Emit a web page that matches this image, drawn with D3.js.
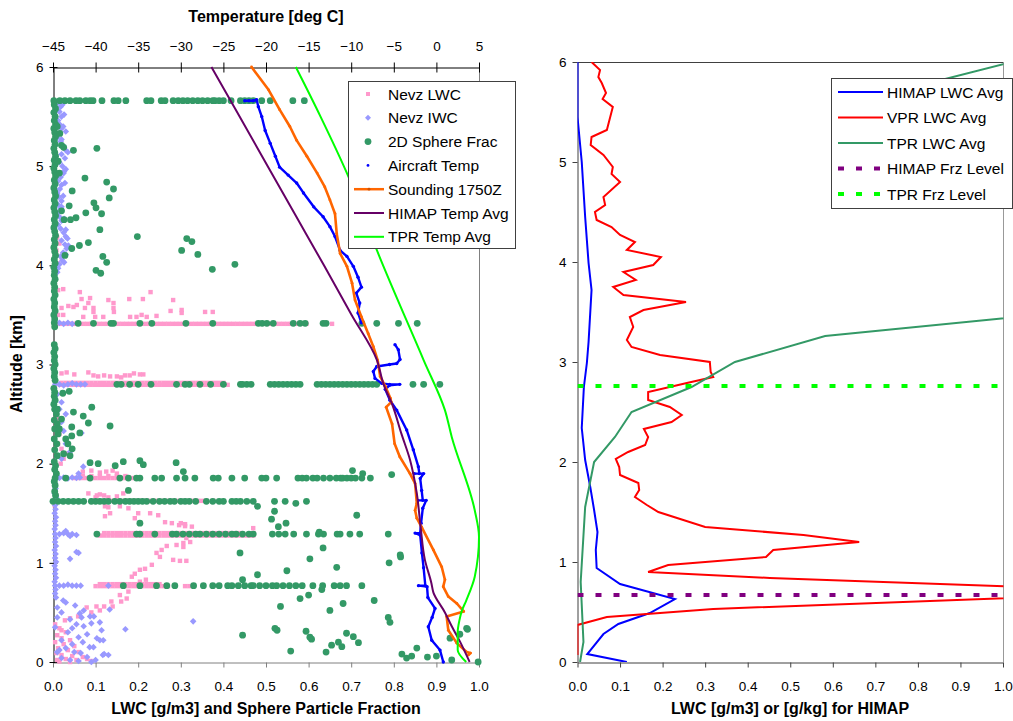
<!DOCTYPE html>
<html><head><meta charset="utf-8">
<script src="https://cdn.jsdelivr.net/npm/d3@7"></script>
<style>body{margin:0;background:#fff}svg{display:block}text{font-family:"Liberation Sans",Arial,sans-serif;fill:#000}</style>
</head><body><svg id="c" width="1013" height="721"></svg>
<script>
// ---------- tick labels ----------
const tempTicks = [-45,-40,-35,-30,-25,-20,-15,-10,-5,0,5];
const fracTicks = [0,0.1,0.2,0.3,0.4,0.5,0.6,0.7,0.8,0.9,1.0];
const altTicks = [0,1,2,3,4,5,6];

// ---------- left chart: Nevz LWC (pink squares) ----------
const nevzLwcBandAlt = [3.41, 2.795, 2.815, 1.855, 1.875, 1.625, 1.275, 1.30, 0.765, 0.785];
const nevzLwcBandX = [
 [0.01,0.018,0.027,0.036,0.045,0.054,0.063,0.072,0.081,0.09,0.1,0.109,0.118,0.127,0.136,0.145,0.154,0.163,0.172,0.181,0.19,0.199,0.208,0.217,0.226,0.235,0.244,0.253,0.262,0.271,0.28,0.289,0.298,0.307,0.316,0.325,0.334,0.343,0.352,0.361,0.37,0.379,0.388,0.397,0.406,0.415,0.424,0.433,0.442,0.451,0.46,0.469,0.478,0.487,0.496,0.505,0.514,0.523,0.532,0.541,0.55,0.559,0.568,0.577,0.586,0.595,0.655],
 [0.016,0.025,0.034,0.043,0.052,0.061,0.07,0.079,0.088,0.097,0.106,0.115,0.124,0.133,0.142,0.151,0.16,0.169,0.178,0.187,0.196,0.205,0.214,0.223,0.232,0.241,0.25,0.259,0.268,0.277,0.286,0.295,0.304,0.313,0.322,0.331,0.34,0.349,0.358,0.367,0.376,0.385,0.394,0.403,0.41],
 [0.02,0.03,0.04,0.05,0.06,0.07,0.08,0.09,0.1,0.11,0.12,0.13,0.14,0.15,0.16,0.17,0.18,0.19,0.2,0.21,0.22,0.23,0.24,0.25,0.26,0.27,0.28,0.29,0.3,0.31,0.32,0.33,0.34,0.35,0.36,0.37,0.38,0.39,0.4],
 [0.05,0.06,0.07,0.08,0.09,0.1,0.11,0.12,0.13,0.14,0.15,0.16,0.17,0.18,0.19],
 [0.07,0.09,0.11,0.13,0.15,0.17],
 [0.09,0.1,0.11,0.12,0.13,0.14,0.15,0.16,0.17,0.18,0.19,0.2,0.21,0.22,0.23,0.24,0.25,0.26,0.27,0.28,0.29,0.3,0.31,0.32,0.33,0.34,0.35,0.36,0.376],
 [0.11,0.12,0.13,0.14,0.15,0.16,0.17,0.18,0.19,0.2,0.21,0.22,0.23,0.24,0.25,0.26,0.27,0.28,0.29,0.3,0.31,0.32,0.33,0.34,0.35,0.36,0.37,0.38,0.39,0.4,0.41,0.42,0.43,0.44,0.45,0.46,0.47],
 [0.12,0.13,0.14,0.15,0.16,0.17,0.18,0.19,0.2,0.21,0.22,0.23,0.24,0.25,0.26,0.27,0.28,0.29,0.3,0.31,0.32,0.33,0.34,0.35,0.36,0.37,0.38,0.39,0.4,0.41,0.42,0.43,0.44,0.47],
 [0.1,0.11,0.12,0.13,0.14,0.15,0.16,0.17,0.18,0.19,0.2,0.21,0.22,0.23,0.24,0.25,0.26,0.27,0.31,0.32],
 [0.11,0.12,0.13,0.14,0.15,0.16,0.17,0.18,0.19,0.2,0.21,0.22,0.23,0.24,0.25]
];
const nevzLwcScatter = [
 [0.012,3.75],[0.024,3.76],[0.063,3.73],[0.087,3.67],[0.067,3.66],[0.02,3.57],[0.036,3.59],[0.048,3.58],[0.056,3.6],[0.075,3.57],
 [0.095,3.53],[0.142,3.62],[0.143,3.53],[0.13,3.65],[0.179,3.66],[0.211,3.66],[0.229,3.73],[0.282,3.65],[0.276,3.54],[0.302,3.55],
 [0.302,3.52],[0.357,3.53],[0.375,3.53],[0.012,3.5],[0.024,3.5],[0.071,3.48],[0.099,3.48],[0.118,3.48],[0.181,3.48],[0.196,3.48],
 [0.208,3.5],[0.22,3.48],[0.243,3.49],[0.083,3.62],[0.095,3.57],[0.142,3.57],
 [0.01,4.28],[0.015,4.22],[0.008,4.15],[0.02,4.08],[0.012,4.02],
 [0.02,2.91],[0.032,2.92],[0.05,2.9],[0.083,2.92],[0.095,2.89],[0.106,2.88],[0.12,2.89],[0.134,2.88],[0.15,2.88],[0.169,2.89],
 [0.18,2.89],[0.204,2.9],[0.212,2.9],[0.16,2.87],[0.19,2.91],
 [0.005,2.55],[0.01,2.45],[0.008,2.4],[0.015,2.3],[0.012,2.2],[0.02,2.15],[0.025,2.05],[0.018,2.0],[0.03,2.1],
 [0.07,1.92],[0.09,1.93],[0.11,1.91],[0.125,1.92],[0.15,1.9],[0.14,1.93],
 [0.083,1.7],[0.103,1.68],[0.11,1.69],[0.15,1.67],[0.165,1.7],[0.1,1.66],[0.13,1.66],[0.12,1.68],
 [0.005,1.75],[0.008,1.68],[0.004,1.58],
 [0.122,1.57],[0.13,1.56],[0.134,1.5],[0.122,1.47],[0.157,1.57],[0.177,1.55],[0.192,1.45],[0.2,1.5],[0.228,1.5],[0.247,1.48],
 [0.263,1.41],[0.279,1.4],[0.296,1.38],[0.31,1.37],[0.326,1.365],[0.47,1.35],[0.3,1.4],[0.31,1.39],
 [0.313,1.25],[0.322,1.21],[0.306,1.2],[0.267,1.17],[0.255,1.13],[0.243,1.1],[0.251,1.06],[0.282,1.03],[0.313,1.02],[0.298,1.02],
 [0.232,0.98],[0.216,0.94],[0.204,0.93],[0.192,0.89],[0.185,0.86],[0.218,0.83],[0.204,0.81],[0.306,1.16],[0.29,1.18],
 [0.177,0.71],[0.157,0.675],[0.173,0.64],[0.137,0.61],[0.16,0.61],[0.102,0.56],[0.079,0.55],[0.12,0.56],[0.14,0.56],[0.059,0.46],
 [0.028,0.42],[0.02,0.32],[0.04,0.44],[0.09,0.5],[0.11,0.52],
 [0.005,0.38],[0.015,0.34],[0.03,0.3],[0.01,0.27],[0.02,0.24],[0.04,0.22],[0.005,0.2],[0.025,0.18],[0.05,0.16],[0.012,0.14],
 [0.035,0.12],[0.06,0.1],[0.008,0.09],[0.02,0.07],[0.045,0.06],[0.07,0.05],[0.03,0.03],[0.01,0.02],[0.055,0.02],[0.08,0.03],
 [0.09,0.01],[0.015,0.005],[0.04,0.0]
];

// ---------- left chart: Nevz IWC (lavender diamonds) ----------
const nevzIwcPts = [
 [0.012,5.64],[0.018,5.6],[0.015,5.55],[0.02,5.5],[0.012,5.46],[0.016,5.42],[0.02,5.38],[0.014,5.33],[0.01,5.29],[0.018,5.25],
 [0.025,5.2],[0.03,5.16],[0.02,5.12],[0.028,5.08],[0.015,5.04],[0.022,5.0],[0.03,4.97],[0.025,4.93],[0.018,4.89],[0.012,4.85],
 [0.02,4.81],[0.016,4.77],[0.01,4.73],[0.014,4.69],[0.02,4.65],[0.012,4.61],[0.018,4.57],[0.01,4.53],[0.015,4.49],[0.02,4.45],
 [0.012,4.41],[0.018,4.37],[0.025,4.33],[0.03,4.29],[0.02,4.25],[0.028,4.21],[0.032,4.17],[0.024,4.13],[0.018,4.09],[0.022,4.05],
 [0.015,4.01],[0.012,3.97],[0.01,3.93],
 [0.022,5.62],[0.026,5.52],[0.024,5.4],[0.03,5.35],[0.02,5.27],[0.035,5.14],[0.026,4.95],[0.028,4.83],[0.024,4.7],[0.02,4.59],
 [0.026,4.47],[0.03,4.36],[0.034,4.27],[0.036,4.2],[0.03,4.11],[0.026,4.03],
 [0.015,3.42],[0.025,3.41],[0.035,3.42],[0.045,3.41],
 [0.005,2.8],[0.015,2.8],[0.025,2.79],[0.035,2.8],[0.045,2.81],[0.055,2.8],[0.065,2.8],[0.075,2.8],
 [0.01,2.7],[0.02,2.62],[0.015,2.55],[0.03,2.5],[0.02,2.42],[0.025,2.33],[0.067,2.31],[0.03,2.2],[0.04,2.12],[0.02,2.05],
 [0.005,1.86],[0.015,1.855],[0.025,1.86],[0.035,1.85],[0.045,1.86],[0.055,1.855],[0.063,1.86],[0.06,1.9],[0.071,1.97],
 [0.005,1.8],[0.006,1.75],[0.004,1.7],[0.007,1.66],[0.005,1.58],[0.006,1.54],[0.004,1.5],[0.007,1.46],[0.005,1.42],[0.006,1.38],
 [0.004,1.34],[0.006,1.25],[0.005,1.21],[0.007,1.17],[0.004,1.13],[0.006,1.09],[0.005,1.05],[0.007,1.01],[0.004,0.97],[0.006,0.93],
 [0.005,0.89],[0.007,0.85],[0.004,0.81],[0.006,0.73],[0.005,0.69],[0.007,0.65],
 [0.005,1.29],[0.015,1.29],[0.025,1.3],[0.035,1.29],[0.045,1.29],[0.055,1.28],[0.03,1.32],[0.04,1.27],
 [0.005,0.77],[0.015,0.77],[0.025,0.77],[0.035,0.78],[0.045,0.77],[0.055,0.77],[0.065,0.77],[0.13,0.77],
 [0.06,1.1],[0.055,1.11],[0.04,1.04],[0.329,0.41],
 [0.024,0.62],[0.03,0.6],[0.052,0.57],[0.063,0.49],[0.072,0.52],[0.087,0.46],[0.067,0.45],[0.096,0.46],[0.04,0.43],[0.055,0.38],
 [0.045,0.34],[0.072,0.36],[0.09,0.39],[0.11,0.4],[0.114,0.32],[0.133,0.53],[0.17,0.33],[0.117,0.07],[0.13,0.07],[0.12,0.08],
 [0.095,0.15],[0.07,0.2],[0.06,0.25],[0.08,0.28],[0.035,0.3],[0.02,0.22],[0.045,0.18],[0.03,0.14],[0.015,0.12],[0.05,0.1],
 [0.065,0.09],[0.08,0.05],[0.1,0.02],[0.09,0.0],[0.04,0.02],[0.02,0.04],[0.06,0.01],[0.11,0.22],[0.103,0.24],[0.118,0.22],
 [0.086,0.15],[0.01,0.55],[0.02,0.5],[0.01,0.45],[0.005,0.35],[0.01,0.1]
];

// ---------- left chart: 2D Sphere Frac (green circles) ----------
const sphereBandAlt = [5.66, 3.415, 2.80, 1.855, 1.62, 1.29, 0.77];
const sphereBandX = [
 [0.002,0.016,0.028,0.04,0.054,0.063,0.077,0.087,0.094,0.115,0.143,0.153,0.171,0.22,0.23,0.254,0.263,0.282,0.294,0.305,0.316,0.328,0.34,0.351,0.363,0.375,0.38,0.39,0.4,0.418,0.44,0.45,0.46,0.47,0.49,0.51,0.563,0.59],
 [0.059,0.095,0.136,0.142,0.204,0.232,0.312,0.375,0.482,0.491,0.502,0.517,0.564,0.58,0.592,0.634,0.641,0.725,0.76,0.811,0.855],
 [0.15,0.16,0.18,0.2,0.23,0.29,0.31,0.32,0.345,0.37,0.4,0.44,0.445,0.455,0.465,0.51,0.52,0.53,0.54,0.55,0.56,0.57,0.58,0.62,0.63,0.64,0.65,0.66,0.67,0.68,0.69,0.7,0.71,0.72,0.73,0.74,0.75,0.76,0.845,0.87,0.908],
 [0.005,0.03,0.087,0.157,0.177,0.196,0.204,0.239,0.255,0.29,0.31,0.333,0.376,0.388,0.42,0.45,0.49,0.5,0.525,0.575,0.585,0.595,0.61,0.62,0.635,0.65,0.665,0.675,0.68,0.69,0.7,0.71,0.725,0.745],
 [0.0,0.012,0.024,0.036,0.048,0.06,0.072,0.09,0.1,0.11,0.12,0.13,0.145,0.157,0.17,0.18,0.19,0.2,0.21,0.22,0.235,0.25,0.262,0.275,0.285,0.3,0.31,0.32,0.335,0.36,0.375,0.39,0.4,0.42,0.43,0.44,0.455,0.47,0.52,0.545,0.595],
 [0.103,0.196,0.204,0.239,0.28,0.29,0.305,0.32,0.335,0.345,0.36,0.375,0.39,0.405,0.42,0.43,0.445,0.46,0.47,0.515,0.53,0.545,0.565,0.595,0.623,0.635,0.667,0.674,0.697,0.72,0.787],
 [0.165,0.204,0.243,0.267,0.286,0.33,0.353,0.375,0.39,0.41,0.42,0.435,0.45,0.465,0.47,0.485,0.5,0.515,0.525,0.54,0.555,0.57,0.585,0.61,0.633,0.66,0.674,0.689,0.725]
];
const sphereColumn = [
 [0.003,5.62],[0.006,5.58],[0.002,5.54],[0.005,5.5],[0.003,5.46],[0.006,5.42],[0.002,5.38],[0.004,5.34],[0.006,5.3],[0.003,5.26],
 [0.005,5.22],[0.002,5.18],[0.004,5.14],[0.006,5.1],[0.003,5.06],[0.005,5.02],[0.002,4.98],[0.004,4.94],[0.006,4.9],[0.003,4.86],
 [0.005,4.82],[0.002,4.78],[0.004,4.74],[0.006,4.7],[0.003,4.66],[0.005,4.62],[0.002,4.58],[0.004,4.54],[0.006,4.5],[0.003,4.46],
 [0.005,4.42],[0.002,4.38],[0.004,4.34],[0.006,4.3],[0.003,4.26],[0.005,4.22],[0.002,4.18],[0.004,4.14],[0.006,4.1],[0.003,4.06],
 [0.005,4.02],[0.002,3.98],[0.004,3.94],[0.003,3.9],[0.005,3.86],[0.002,3.82],[0.004,3.78],[0.003,3.74],[0.005,3.7],[0.002,3.66],
 [0.004,3.62],[0.003,3.58],[0.005,3.54],[0.002,3.5],[0.004,3.46],[0.003,3.42],[0.004,3.38],
 [0.003,3.2],[0.005,3.16],[0.002,3.12],[0.004,3.08],[0.003,3.04],[0.005,3.0],[0.002,2.96],[0.004,2.92],[0.003,2.88],[0.005,2.84],
 [0.002,2.76],[0.004,2.72],[0.003,2.68],[0.005,2.64],[0.002,2.6],
 [0.004,2.55],[0.008,2.5],[0.003,2.44],[0.01,2.4],[0.004,2.35],[0.012,2.3],[0.003,2.25],[0.009,2.2],[0.004,2.14],[0.01,2.08],
 [0.003,2.02],[0.006,1.98],[0.004,1.94],[0.008,1.9],[0.003,1.82],[0.005,1.78],[0.004,1.72],[0.006,1.68]
];
const sphereScatter = [
 [0.016,5.33],[0.02,5.21],[0.025,5.19],[0.048,5.16],[0.103,5.18],[0.075,4.88],[0.126,4.84],[0.142,4.77],[0.045,4.75],[0.132,4.68],
 [0.096,4.63],[0.101,4.58],[0.038,4.6],[0.02,4.55],[0.077,4.53],[0.114,4.52],[0.054,4.48],[0.041,4.46],[0.026,4.46],[0.11,4.36],
 [0.198,4.29],[0.314,4.27],[0.326,4.24],[0.302,4.15],[0.34,4.11],[0.427,4.01],[0.374,3.96],[0.083,4.23],[0.062,4.2],[0.044,4.17],
 [0.028,4.1],[0.117,4.09],[0.126,4.03],[0.101,3.95],[0.112,3.92],[0.01,5.4],[0.012,5.05],[0.015,4.93],
 [0.023,2.71],[0.038,2.73],[0.091,2.57],[0.071,2.48],[0.048,2.52],[0.083,2.41],[0.134,2.38],[0.044,2.37],[0.044,2.28],[0.063,2.31],
 [0.01,2.55],[0.02,2.45],[0.015,2.35],[0.03,2.25],[0.035,2.2],[0.045,2.15],[0.025,2.1],[0.04,2.08],
 [0.087,2.01],[0.106,2.0],[0.146,1.98],[0.165,2.02],[0.204,2.03],[0.212,1.99],[0.289,2.01],[0.306,1.92],[0.177,1.73],
 [0.703,1.93],[0.727,1.9],[0.795,1.89],
 [0.48,1.57],[0.57,1.6],[0.52,1.52],[0.713,1.48],[0.513,1.44],[0.529,1.365],[0.547,1.4],[0.204,1.4],[0.625,1.31],
 [0.439,1.1],[0.634,1.15],[0.603,1.04],[0.789,1.0],[0.816,1.06],[0.666,0.955],[0.549,0.92],[0.48,0.88],[0.445,0.83],[0.631,0.73],
 [0.58,0.64],[0.6,0.675],[0.534,0.56],[0.65,0.52],[0.681,0.59],[0.754,0.62],[0.787,0.45],[0.791,0.4],[0.445,0.27],[0.521,0.34],
 [0.526,0.32],[0.594,0.31],[0.607,0.23],[0.603,0.25],[0.689,0.29],[0.705,0.255],[0.67,0.2],[0.654,0.17],[0.678,0.155],[0.717,0.195],
 [0.558,0.11],[0.641,0.1],[0.819,0.08],[0.83,0.04],[0.842,0.06],[0.854,0.14],[0.879,0.05],[0.9,0.06],[0.936,0.02],[0.973,0.33],
 [0.955,0.28],[0.998,0.0],[0.932,0.24],[0.971,0.34],[0.815,1.08]
];

// ---------- left chart: temperatures [deg C, km] ----------
const aircraftTemp = [
 [-22.5,5.66],[-22.0,5.66],[-21.5,5.66],[-21.1,5.67],[-20.9,5.6],[-20.5,5.5],[-20.1,5.36],[-19.5,5.23],[-18.9,5.1],[-18.4,4.99],
 [-17.4,4.91],[-16.4,4.83],[-15.6,4.73],[-14.4,4.59],[-13.3,4.49],[-12.5,4.39],[-11.9,4.29],[-11.3,4.15],[-10.5,4.09],[-9.75,3.99],
 [-9.2,3.88],[-8.8,3.78],[-9.4,3.72],[-9.0,3.62],[-9.2,3.52],[-8.8,3.42],
 null,
 [-4.86,3.2],[-4.47,3.15],[-4.27,3.05],[-4.66,3.01],[-5.5,3.0],[-7.0,2.98],[-7.4,2.93],[-7.2,2.86],[-6.42,2.81],[-5.5,2.8],
 [-4.3,2.8],[-5.5,2.79],[-6.0,2.75],[-5.45,2.64],[-4.66,2.54],[-3.49,2.34],[-2.71,2.14],[-2.12,1.97],[-2.0,1.9],[-2.6,1.9],
 [-1.5,1.9],[-1.9,1.85],[-1.73,1.73],[-1.6,1.63],[-2.2,1.63],[-1.2,1.63],[-1.6,1.55],[-1.8,1.4],[-1.9,1.3],[-2.5,1.3],
 [-1.9,1.28],[-1.7,1.1],[-1.5,0.95],[-1.3,0.77],[-2.1,0.77],[-1.1,0.76],[-1.0,0.65],[-0.16,0.54],[-0.5,0.45],[-0.95,0.356],
 [-0.55,0.22],[0.42,0.12],[0.81,0.0]
];
const soundingTemp = [
 [-21.7,6.0],[-19.7,5.77],[-18.4,5.57],[-17.2,5.4],[-16.4,5.26],[-15.2,5.1],[-14.0,4.93],[-13.1,4.79],[-12.5,4.66],[-11.9,4.52],
 [-11.7,4.32],[-11.3,4.12],[-10.5,3.99],[-9.9,3.82],[-9.55,3.65],[-8.8,3.48],[-8.0,3.31],[-7.4,3.18],[-6.9,3.045],[-6.6,2.88],
 [-6.0,2.78],[-5.4,2.66],[-5.3,2.62],[-5.9,2.57],[-5.2,2.4],[-4.9,2.2],[-4.3,2.07],[-3.1,1.9],[-2.5,1.8],[-2.3,1.6],
 [-2.5,1.53],[-2.3,1.45],[-1.73,1.36],[-0.36,1.13],[0.62,0.96],[1.0,0.83],[0.8,0.76],[1.4,0.66],[2.4,0.59],[3.2,0.51],
 [1.2,0.46],[1.4,0.32],[2.4,0.19],[3.55,0.1],[4.0,0.09],[3.75,0.07]
];
const himapTemp = [
 [-26.4,6.0],[-23.1,5.5],[-19.8,5.0],[-16.5,4.5],[-13.2,4.0],[-9.95,3.5],[-7.0,3.05],[-6.2,2.8],[-5.2,2.6],[-4.1,2.3],
 [-3.1,2.04],[-2.3,1.7],[-1.85,1.36],[-1.35,1.03],[-0.6,0.8],[-0.35,0.7],[1.0,0.5],[1.8,0.36],[2.8,0.2],[3.9,0.0]
];
const tprTemp = [
 [-16.5,6.0],[-13.6,5.5],[-10.3,4.89],[-7.0,4.155],[-1.5,3.045],[1.0,2.54],[1.8,2.27],[4.5,1.53],[5.0,1.26],[4.5,0.86],
 [3.5,0.62],[3.0,0.52],[2.7,0.42],[2.5,0.3],[2.5,0.12],[3.5,0.0]
];

// ---------- right chart: LWC profiles [value, km] ----------
const himapLwc = [
 [0.0,6.0],[0.0,5.45],[0.01,5.0],[0.018,4.45],[0.026,3.99],[0.033,3.72],[0.026,3.2],[0.022,2.99],[0.015,2.75],[0.01,2.34],
 [0.018,2.02],[0.03,1.75],[0.039,1.52],[0.047,1.3],[0.043,1.12],[0.045,0.94],[0.1,0.78],[0.229,0.63],[0.17,0.49],[0.096,0.38],
 [0.061,0.28],[0.023,0.08],[0.116,0.0]
];
const vprLwc = [
 [0.033,6.0],[0.053,5.92],[0.049,5.85],[0.057,5.79],[0.067,5.69],[0.059,5.63],[0.083,5.55],[0.069,5.32],[0.033,5.25],[0.031,5.17],
 [0.061,5.07],[0.083,4.95],[0.08,4.88],[0.1,4.8],[0.061,4.65],[0.065,4.57],[0.041,4.5],[0.045,4.42],[0.08,4.35],[0.1,4.27],
 [0.135,4.2],[0.116,4.12],[0.196,4.05],[0.178,3.97],[0.108,3.9],[0.137,3.82],[0.084,3.75],[0.108,3.67],[0.255,3.6],[0.155,3.52],
 [0.123,3.45],[0.131,3.35],[0.116,3.22],[0.127,3.15],[0.194,3.07],[0.311,3.0],[0.313,2.9],[0.319,2.85],[0.257,2.79],[0.166,2.7],
 [0.166,2.62],[0.217,2.55],[0.245,2.47],[0.221,2.4],[0.156,2.33],[0.166,2.25],[0.159,2.17],[0.119,2.1],[0.09,2.03],[0.098,1.95],
 [0.1,1.87],[0.143,1.79],[0.145,1.72],[0.135,1.65],[0.163,1.57],[0.19,1.5],[0.3,1.35],[0.531,1.27],[0.662,1.2],[0.46,1.12],
 [0.443,1.05],[0.213,0.97],[0.166,0.9],[0.452,0.84],[1.39,0.7],[0.319,0.53],[0.069,0.45],[0.0,0.37],[0.0,0.07]
];
const tprLwc = [
 [0.006,0.0],[0.014,0.2],[0.0075,0.8],[0.018,1.55],[0.039,2.0],[0.088,2.25],[0.127,2.5],[0.268,2.75],[0.37,3.0],[0.582,3.26],
 [1.15,3.5],[1.4,4.0],[1.6,4.5],[1.5,5.0],[1.3,5.5],[0.79,5.75],[1.02,6.0]
];
const himapFrzAlt = 0.67;
const tprFrzAlt = 2.76;

// ---------- legends ----------
const leftLegend = ["Nevz LWC","Nevz IWC","2D Sphere Frac","Aircraft Temp","Sounding 1750Z","HIMAP Temp Avg","TPR Temp Avg"];
const rightLegend = ["HIMAP LWC Avg","VPR LWC Avg","TPR LWC Avg","HIMAP Frz Level","TPR Frz Level"];

// ---------- styles ----------
const C = {pink:"#ff99cc", lav:"#9999ff", sphere:"#339966", air:"#0000ff", snd:"#ff6600", himapT:"#660066", tprT:"#00ff00",
           himapL:"#0000ff", vpr:"#ff0000", tprL:"#339966", himapFrz:"#800080", tprFrz:"#00ff00"};
const TICK_FS = 13.5, TITLE_FS = 16, LEG_FS = 15.5;

const svg = d3.select("#c");
const xL = d3.scaleLinear([0,1],[53,479]);
const xT = d3.scaleLinear([-45,5],[53,479]);
const yL = d3.scaleLinear([0,6],[662,67]);
const xR = d3.scaleLinear([0,1],[577.5,1003]);
const yR = d3.scaleLinear([0,6],[662,62]);
const f1 = d3.format(".1f");
const styleText = g => g.selectAll("text").attr("font-size",TICK_FS).attr("font-family","Liberation Sans, Arial").attr("fill","#000");

// ---------- left chart frame ----------
const gL = svg.append("g");
gL.append("line").attr("x1",479.5).attr("x2",479.5).attr("y1",67).attr("y2",662).attr("stroke","#808080");

const bx = gL.append("g").attr("transform","translate(0,662.5)")
 .call(d3.axisBottom(xL).tickValues(fracTicks).tickFormat(f1).tickSizeInner(5).tickSizeOuter(0).tickPadding(14));
bx.select(".domain").attr("stroke","#808080");
bx.selectAll(".tick line").attr("stroke","#808080");
styleText(bx);

const ly = gL.append("g").attr("transform","translate(53.5,0)")
 .call(d3.axisLeft(yL).tickValues(altTicks).tickFormat(d3.format("d")).tickSizeInner(4).tickSizeOuter(0).tickPadding(6));
ly.selectAll(".tick line").attr("x1",4).attr("x2",-4).attr("stroke","#000");
ly.select(".domain").attr("stroke","#000");
styleText(ly);

const tx = gL.append("g").attr("transform","translate(0,67.5)")
 .call(d3.axisTop(xT).tickValues(tempTicks).tickFormat(d3.format("d")).tickSizeInner(5).tickSizeOuter(0).tickPadding(12));
tx.selectAll(".tick line").attr("y1",5).attr("y2",-5).attr("stroke","#000");
tx.select(".domain").attr("stroke","#000");
styleText(tx);

gL.append("text").attr("x",266).attr("y",22).attr("text-anchor","middle").attr("font-weight","bold").attr("font-size",TITLE_FS).text("Temperature [deg C]");
gL.append("text").attr("x",266).attr("y",714).attr("text-anchor","middle").attr("font-weight","bold").attr("font-size",TITLE_FS).text("LWC [g/m3] and Sphere Particle Fraction");
gL.append("text").attr("transform","translate(21.5,364) rotate(-90)").attr("text-anchor","middle").attr("font-weight","bold").attr("font-size",TITLE_FS).text("Altitude [km]");

// ---------- left chart marks ----------
const pinkPts = [];
nevzLwcBandAlt.forEach((a,i)=>nevzLwcBandX[i].forEach(x=>pinkPts.push([x,a])));
nevzLwcScatter.forEach(p=>pinkPts.push(p));
gL.append("g").selectAll("rect").data(pinkPts).join("rect")
 .attr("x",d=>xL(d[0])-2.2).attr("y",d=>yL(d[1])-2.2).attr("width",4.4).attr("height",4.4).attr("fill",C.pink);

const diamond = (cx,cy,r)=>`M${cx},${cy-r}L${cx+r},${cy}L${cx},${cy+r}L${cx-r},${cy}Z`;
gL.append("g").selectAll("path").data(nevzIwcPts).join("path")
 .attr("d",d=>diamond(xL(d[0]),yL(d[1]),3.3)).attr("fill",C.lav);

const spherePts = [];
sphereColumn.forEach(p=>spherePts.push(p));
sphereBandAlt.forEach((a,i)=>sphereBandX[i].forEach(x=>spherePts.push([x,a])));
sphereScatter.forEach(p=>spherePts.push(p));
gL.append("g").selectAll("circle").data(spherePts).join("circle")
 .attr("cx",d=>xL(d[0])).attr("cy",d=>yL(d[1])).attr("r",3.4).attr("fill",C.sphere);

const tLine = d3.line().defined(d=>d!==null).x(d=>xT(d[0])).y(d=>yL(d[1]));
gL.append("path").attr("d",tLine(aircraftTemp)).attr("fill","none").attr("stroke",C.air).attr("stroke-width",2.4).attr("stroke-linejoin","round");
gL.append("g").selectAll("circle").data(aircraftTemp.filter(d=>d)).join("circle")
 .attr("cx",d=>xT(d[0])).attr("cy",d=>yL(d[1])).attr("r",1.7).attr("fill",C.air);

gL.append("path").attr("d",tLine(soundingTemp)).attr("fill","none").attr("stroke",C.snd).attr("stroke-width",2.6).attr("stroke-linejoin","round");
gL.append("g").selectAll("circle").data(soundingTemp).join("circle")
 .attr("cx",d=>xT(d[0])).attr("cy",d=>yL(d[1])).attr("r",1.4).attr("fill",C.snd);

const smooth = d3.line().curve(d3.curveMonotoneY).x(d=>xT(d[0])).y(d=>yL(d[1]));
gL.append("path").attr("d",smooth(himapTemp)).attr("fill","none").attr("stroke",C.himapT).attr("stroke-width",2);
gL.append("path").attr("d",smooth(tprTemp)).attr("fill","none").attr("stroke",C.tprT).attr("stroke-width",2);

// left legend
const lg = svg.append("g");
lg.append("rect").attr("x",348.5).attr("y",81.5).attr("width",167).attr("height",167).attr("fill","#fff").attr("stroke","#404040");
leftLegend.forEach((name,i)=>{
  const y = 94 + i*23.8;
  if(i===0) lg.append("rect").attr("x",366).attr("y",y-2).attr("width",4).attr("height",4).attr("fill",C.pink);
  if(i===1) lg.append("path").attr("d",diamond(368,y,3)).attr("fill",C.lav);
  if(i===2) lg.append("circle").attr("cx",368).attr("cy",y).attr("r",3.4).attr("fill",C.sphere);
  if(i===3) lg.append("circle").attr("cx",368).attr("cy",y).attr("r",1.4).attr("fill",C.air);
  if(i===4){ lg.append("line").attr("x1",354).attr("x2",384).attr("y1",y).attr("y2",y).attr("stroke",C.snd).attr("stroke-width",2.5);
             lg.append("circle").attr("cx",369).attr("cy",y).attr("r",1.4).attr("fill","#d05000"); }
  if(i===5) lg.append("line").attr("x1",354).attr("x2",384).attr("y1",y).attr("y2",y).attr("stroke",C.himapT).attr("stroke-width",2);
  if(i===6) lg.append("line").attr("x1",354).attr("x2",384).attr("y1",y).attr("y2",y).attr("stroke",C.tprT).attr("stroke-width",2);
  lg.append("text").attr("x",388).attr("y",y).attr("dy","0.36em").attr("font-size",LEG_FS).text(name);
});

// ---------- right chart ----------
const gR = svg.append("g");
gR.append("line").attr("x1",577.5).attr("x2",1003.5).attr("y1",62.5).attr("y2",62.5).attr("stroke","#404040");
gR.append("line").attr("x1",1003.5).attr("x2",1003.5).attr("y1",62).attr("y2",662).attr("stroke","#999");

const rbx = gR.append("g").attr("transform","translate(0,662.5)")
 .call(d3.axisBottom(xR).tickValues(fracTicks).tickFormat(f1).tickSizeInner(5).tickSizeOuter(0).tickPadding(14));
rbx.select(".domain").attr("stroke","#404040");
rbx.selectAll(".tick line").attr("stroke","#404040");
styleText(rbx);

const rly = gR.append("g").attr("transform","translate(577.5,0)")
 .call(d3.axisLeft(yR).tickValues(altTicks).tickFormat(d3.format("d")).tickSizeInner(5).tickSizeOuter(0).tickPadding(6));
rly.select(".domain").attr("stroke","#404040");
rly.selectAll(".tick line").attr("stroke","#404040");
styleText(rly);

gR.append("text").attr("x",790).attr("y",714).attr("text-anchor","middle").attr("font-weight","bold").attr("font-size",TITLE_FS).text("LWC [g/m3] or [g/kg] for HIMAP");

svg.append("defs").append("clipPath").attr("id","clipR").append("rect").attr("x",577.5).attr("y",62).attr("width",426).attr("height",600);
const pR = gR.append("g").attr("clip-path","url(#clipR)");
const rLine = d3.line().x(d=>xR(d[0])).y(d=>yR(d[1]));
pR.append("path").attr("d",rLine(himapLwc)).attr("fill","none").attr("stroke",C.himapL).attr("stroke-width",2);
pR.append("path").attr("d",rLine(vprLwc)).attr("fill","none").attr("stroke",C.vpr).attr("stroke-width",2);
pR.append("path").attr("d",rLine(tprLwc)).attr("fill","none").attr("stroke",C.tprL).attr("stroke-width",2);
pR.append("line").attr("x1",xR(0)).attr("x2",xR(1)).attr("y1",yR(himapFrzAlt)).attr("y2",yR(himapFrzAlt))
 .attr("stroke",C.himapFrz).attr("stroke-width",4).attr("stroke-dasharray","6,12");
pR.append("line").attr("x1",xR(0)).attr("x2",xR(1)).attr("y1",yR(tprFrzAlt)).attr("y2",yR(tprFrzAlt))
 .attr("stroke",C.tprFrz).attr("stroke-width",4).attr("stroke-dasharray","6,12");

// right legend
const rg = svg.append("g");
rg.append("rect").attr("x",831.5).attr("y",78.5).attr("width",181).attr("height",130).attr("fill","#fff").attr("stroke","#404040");
const rCols = [C.himapL, C.vpr, C.tprL, C.himapFrz, C.tprFrz];
rightLegend.forEach((name,i)=>{
  const y = 92 + i*25.5;
  const ln = rg.append("line").attr("x1",838).attr("x2",883).attr("y1",y).attr("y2",y).attr("stroke",rCols[i]);
  if(i<3) ln.attr("stroke-width",2); else ln.attr("stroke-width",4).attr("stroke-dasharray","6,12");
  rg.append("text").attr("x",887).attr("y",y).attr("dy","0.36em").attr("font-size",LEG_FS).text(name);
});
</script></body></html>
